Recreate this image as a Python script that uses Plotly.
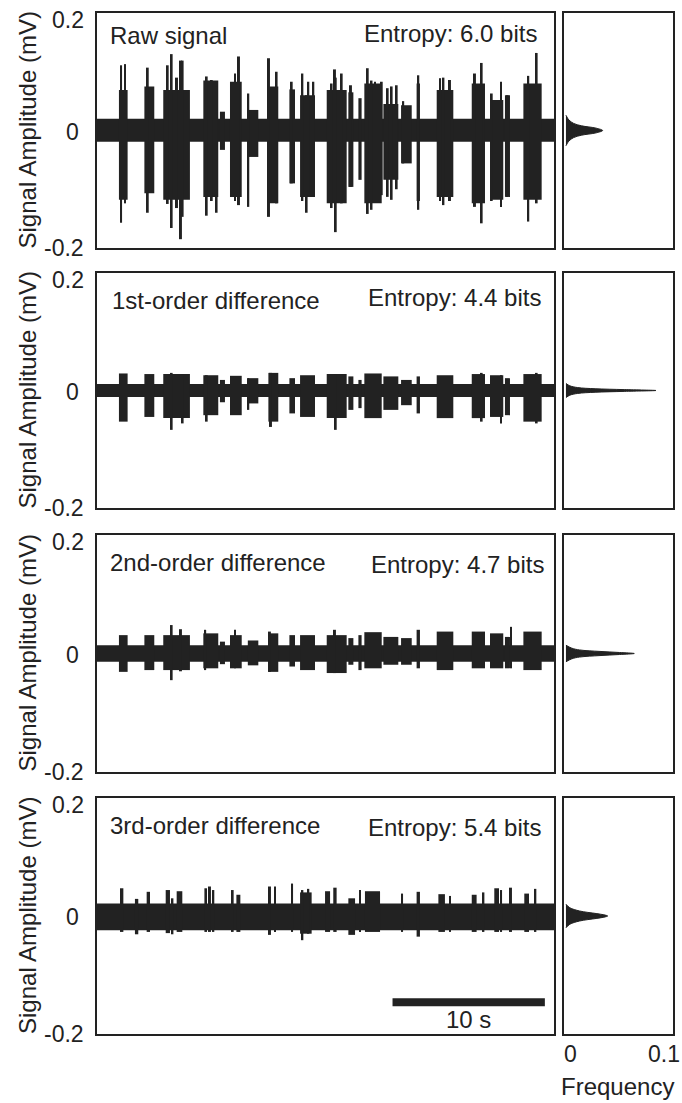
import numpy as np
import plotly.graph_objects as go

W, H = 682, 1103
INK = "#222222"
FONT = "Liberation Sans, Arial, sans-serif"

# ---------------- data ----------------
DURATION = [0, 30]                       # seconds shown in each trace panel
ROW_NAMES = ["Raw signal", "1st-order difference", "2nd-order difference", "3rd-order difference"]
ENTROPY = ["Entropy: 6.0 bits", "Entropy: 4.4 bits", "Entropy: 4.7 bits", "Entropy: 5.4 bits"]
Y_TICKS = [-0.2, 0, 0.2]
Y_TICK_TEXT = ["-0.2", "0", "0.2"]
FREQ_TICKS = [0, 0.1]
FREQ_TICK_TEXT = ["0", "0.1"]

# background noise band (upper / lower), per row
NOISE_TOP = [0.020, 0.011, 0.014, 0.021]
NOISE_BOT = [-0.019, -0.011, -0.014, -0.024]

# muscle bursts (shared timing for rows 1-3)
BURST_START = [1.44, 3.11, 4.35, 6.98, 8.07, 8.73, 9.90, 11.25, 12.63, 13.33, 15.08,
               16.50, 17.16, 17.55, 18.80, 19.96, 20.98, 22.30, 24.60, 25.80, 26.78, 27.99]
BURST_END = [2.01, 3.76, 6.10, 7.96, 8.40, 9.50, 10.59, 11.90, 13.00, 14.31, 16.39,
             16.83, 17.37, 18.69, 19.78, 20.66, 21.20, 23.39, 25.47, 26.67, 27.11, 29.19]

RAW_TOP = [0.069, 0.075, 0.069, 0.085, 0.032, 0.083, 0.035, 0.075, 0.070, 0.060, 0.069,
           0.065, 0.055, 0.080, 0.045, 0.043, 0.080, 0.069, 0.080, 0.052, 0.060, 0.080]
RAW_BOT = [-0.118, -0.107, -0.118, -0.113, -0.033, -0.113, -0.045, -0.124, -0.090, -0.113, -0.124,
           -0.096, -0.084, -0.124, -0.084, -0.056, -0.120, -0.113, -0.124, -0.118, -0.113, -0.118]
RAW_SPIKE_T = [1.58, 1.84, 3.33, 4.64, 4.90, 5.25, 5.51, 5.62, 7.20, 7.53, 7.85, 9.06, 9.32, 9.93,
               11.29, 11.79, 12.78, 13.48, 13.76, 13.87, 14.20, 15.40, 15.62, 15.67, 16.06, 16.67,
               17.77, 18.02, 18.25, 18.69, 19.08, 19.34, 19.67, 20.10, 21.09, 22.52, 22.74, 23.17,
               24.81, 25.25, 25.91, 26.52, 26.95, 28.31, 28.86]
RAW_SPIKE_TOP = [0.111, 0.113, 0.107, 0.111, 0.130, 0.090, 0.119, 0.119, 0.092, 0.086, 0.075, 0.097,
                 0.126, 0.063, 0.123, 0.100, 0.083, 0.097, 0.060, 0.083, 0.083, 0.080, 0.104, 0.090,
                 0.097, 0.077, 0.106, 0.085, 0.083, 0.083, 0.072, 0.075, 0.077, 0.050, 0.094, 0.089,
                 0.090, 0.086, 0.097, 0.115, 0.063, 0.083, 0.060, 0.093, 0.132]
RAW_SPIKE_BOT = [-0.157, -0.124, -0.140, -0.125, -0.166, -0.132, -0.185, -0.147, -0.145, -0.120,
                 -0.140, -0.120, -0.127, -0.130, -0.147, -0.124, -0.090, -0.120, -0.140, -0.110,
                 -0.110, -0.132, -0.120, -0.173, -0.124, -0.096, -0.142, -0.135, -0.120, -0.110,
                 -0.113, -0.118, -0.100, -0.056, -0.135, -0.120, -0.127, -0.120, -0.130, -0.158,
                 -0.120, -0.130, -0.113, -0.155, -0.124]

D1_TOP = [0.029, 0.028, 0.028, 0.026, 0.018, 0.025, 0.021, 0.030, 0.021, 0.026, 0.028,
          0.024, 0.018, 0.029, 0.024, 0.018, 0.024, 0.026, 0.028, 0.026, 0.021, 0.028]
D1_BOT = [-0.053, -0.045, -0.047, -0.042, -0.020, -0.042, -0.022, -0.053, -0.039, -0.045, -0.047,
          -0.033, -0.030, -0.047, -0.033, -0.025, -0.039, -0.047, -0.047, -0.045, -0.042, -0.053]
D1_SPIKE_T = [4.90, 5.62, 7.20, 9.93, 11.42, 15.67, 25.25, 26.52, 28.86]
D1_SPIKE_TOP = [0.030, 0.028, 0.026, 0.021, 0.030, 0.028, 0.030, 0.026, 0.030]
D1_SPIKE_BOT = [-0.067, -0.056, -0.053, -0.033, -0.062, -0.067, -0.053, -0.056, -0.056]

D2_TOP = [0.031, 0.031, 0.031, 0.034, 0.020, 0.031, 0.022, 0.034, 0.031, 0.031, 0.031,
          0.026, 0.031, 0.036, 0.028, 0.026, 0.040, 0.037, 0.037, 0.034, 0.028, 0.037]
D2_BOT = [-0.031, -0.028, -0.028, -0.025, -0.018, -0.025, -0.020, -0.031, -0.022, -0.028, -0.033,
          -0.019, -0.028, -0.025, -0.019, -0.019, -0.025, -0.028, -0.025, -0.025, -0.025, -0.028]
D2_SPIKE_T = [4.90, 5.51, 7.10, 9.06, 11.35, 15.62, 27.18]
D2_SPIKE_TOP = [0.048, 0.041, 0.040, 0.040, 0.037, 0.040, 0.045]
D2_SPIKE_BOT = [-0.045, -0.030, -0.028, -0.025, -0.031, -0.033, -0.025]

D3_START = [1.51, 2.49, 3.26, 4.51, 5.23, 7.05, 7.35, 7.57, 8.84, 9.15, 11.29, 11.62, 12.74, 13.33, 14.97,
            15.51, 16.50, 17.20, 17.59, 19.96, 20.98, 22.41, 23.11, 24.60, 25.30, 26.08, 26.46, 27.11, 28.05, 28.71]
D3_END = [1.73, 2.71, 3.48, 4.79, 5.60, 7.22, 7.48, 7.70, 8.97, 9.41, 11.42, 11.75, 12.87, 14.09, 15.30,
          15.73, 16.94, 17.33, 18.58, 20.09, 21.20, 22.84, 23.24, 24.92, 25.43, 26.39, 26.59, 27.24, 28.36, 28.84]
D3_TOP = [0.047, 0.029, 0.041, 0.044, 0.042, 0.047, 0.050, 0.044, 0.044, 0.036, 0.050, 0.050, 0.055, 0.040, 0.042,
          0.048, 0.030, 0.044, 0.042, 0.038, 0.041, 0.037, 0.034, 0.036, 0.040, 0.047, 0.044, 0.048, 0.038, 0.046]
D3_BOT = [-0.027, -0.031, -0.027, -0.029, -0.027, -0.027, -0.027, -0.027, -0.027, -0.027, -0.032, -0.027, -0.027, -0.030, -0.027,
          -0.027, -0.032, -0.027, -0.027, -0.027, -0.035, -0.027, -0.027, -0.027, -0.027, -0.027, -0.027, -0.027, -0.027, -0.027]
D3_SPIKE_T = [4.95, 13.48, 13.87]
D3_SPIKE_TOP = [0.030, 0.044, 0.046]
D3_SPIKE_BOT = [-0.031, -0.041, -0.030]

# amplitude histograms (amplitude bin, frequency)
H1_AMP = [0.026, 0.018, 0.012, 0.008, 0.004, 0.0, -0.004, -0.008, -0.012, -0.018, -0.026]
H1_FREQ = [0.0, 0.003, 0.008, 0.016, 0.031, 0.0377, 0.031, 0.016, 0.008, 0.003, 0.0]
H2_AMP = [0.012, 0.008, 0.005, 0.003, 0.0015, 0.0, -0.0015, -0.003, -0.005, -0.008, -0.012]
H2_FREQ = [0.0, 0.004, 0.012, 0.030, 0.060, 0.0925, 0.060, 0.030, 0.012, 0.004, 0.0]
H3_AMP = [0.014, 0.009, 0.006, 0.0035, 0.0017, 0.0, -0.0017, -0.0035, -0.006, -0.009, -0.014]
H3_FREQ = [0.0, 0.006, 0.014, 0.035, 0.055, 0.0702, 0.055, 0.035, 0.014, 0.006, 0.0]
H4_AMP = [0.020, 0.014, 0.0085, 0.0042, 0.002, 0.0, -0.002, -0.0042, -0.0085, -0.014, -0.020]
H4_FREQ = [0.0, 0.004, 0.014, 0.031, 0.039, 0.0429, 0.039, 0.031, 0.014, 0.004, 0.0]

SCALE_BAR_T = [19.4, 29.4]
SCALE_BAR_LABEL = "10 s"

rows = [
    dict(start=BURST_START, end=BURST_END, top=RAW_TOP, bot=RAW_BOT,
         st=RAW_SPIKE_T, stop=RAW_SPIKE_TOP, sbot=RAW_SPIKE_BOT, ha=H1_AMP, hf=H1_FREQ),
    dict(start=BURST_START, end=BURST_END, top=D1_TOP, bot=D1_BOT,
         st=D1_SPIKE_T, stop=D1_SPIKE_TOP, sbot=D1_SPIKE_BOT, ha=H2_AMP, hf=H2_FREQ),
    dict(start=BURST_START, end=BURST_END, top=D2_TOP, bot=D2_BOT,
         st=D2_SPIKE_T, stop=D2_SPIKE_TOP, sbot=D2_SPIKE_BOT, ha=H3_AMP, hf=H3_FREQ),
    dict(start=D3_START, end=D3_END, top=D3_TOP, bot=D3_BOT,
         st=D3_SPIKE_T, stop=D3_SPIKE_TOP, sbot=D3_SPIKE_BOT, ha=H4_AMP, hf=H4_FREQ),
]

# ---------------- layout geometry (pixels) ----------------
SIG_X = (97, 554)
HIST_X = (564, 673)
ROW_Y = [(13, 248), (273, 508), (535, 772), (798, 1034)]
LABEL_POS = [((108, 35), (539, 34)), ((110, 300), (543, 297)),
             ((108, 562), (546, 564)), ((108, 825), (543, 827))]
YTICK_RIGHT = {"-0.2": 86, "0": 81, "0.2": 86}
YTICK_SHIFT = {"-0.2": 0, "0": -1, "0.2": -7}
FREQ_TICK_X = {"0": 570, "0.1": 664}
FREQ_TICK_Y = 1054

def px(x):
    return x / W

def py(y):
    return 1 - y / H

fig = go.Figure()
layout = dict(width=W, height=H, margin=dict(l=0, r=0, t=0, b=0),
              paper_bgcolor="white", plot_bgcolor="white", showlegend=False,
              barmode="overlay", font=dict(family=FONT, color=INK, size=22))
annotations = []

axis_line = dict(showline=True, mirror=True, linecolor=INK, linewidth=2,
                 showgrid=False, zeroline=False, fixedrange=True, automargin=False,
                 showticklabels=False, ticks="")

def txt(text, x, y, xanchor="center", xref="paper", yref="paper", size=24, **kw):
    annotations.append(dict(text=text, x=x, y=y, xref=xref, yref=yref, xanchor=xanchor,
                            yanchor="middle", showarrow=False,
                            font=dict(size=size, family=FONT, color=INK), **kw))

for i, r in enumerate(rows):
    xs, ys = f"x{2*i+1}", f"y{2*i+1}"
    xh, yh = f"x{2*i+2}", f"y{2*i+2}"
    y0, y1 = ROW_Y[i]
    dom_y = [py(y1), py(y0)]

    layout[f"xaxis{2*i+1}"] = dict(domain=[px(SIG_X[0]), px(SIG_X[1])], range=DURATION,
                                   anchor=ys, **axis_line)
    layout[f"yaxis{2*i+1}"] = dict(domain=dom_y, range=[-0.2, 0.2], anchor=xs, **axis_line)
    layout[f"xaxis{2*i+2}"] = dict(domain=[px(HIST_X[0]), px(HIST_X[1])], range=[-0.002, 0.11],
                                   anchor=yh, **axis_line)
    layout[f"yaxis{2*i+2}"] = dict(domain=dom_y, range=[-0.2, 0.2], anchor=xh, **axis_line)

    # noise band
    fig.add_trace(go.Bar(x=[np.mean(DURATION)], width=[DURATION[1] - DURATION[0]],
                         base=[NOISE_BOT[i]], y=[NOISE_TOP[i] - NOISE_BOT[i]],
                         marker=dict(color=INK, line=dict(width=0)), xaxis=xs, yaxis=ys,
                         hoverinfo="skip"))
    # bursts
    st = np.array(r["start"]); en = np.array(r["end"])
    top = np.array(r["top"]); bot = np.array(r["bot"])
    fig.add_trace(go.Bar(x=(st + en) / 2, width=en - st, base=bot, y=top - bot,
                         marker=dict(color=INK, line=dict(width=0)), xaxis=xs, yaxis=ys,
                         hoverinfo="skip"))
    # individual spikes
    spt = np.array(r["st"]); stop = np.array(r["stop"]); sbot = np.array(r["sbot"])
    fig.add_trace(go.Bar(x=spt, width=np.full(len(spt), 0.13), base=sbot, y=stop - sbot,
                         marker=dict(color=INK, line=dict(width=0)), xaxis=xs, yaxis=ys,
                         hoverinfo="skip"))
    # histogram
    fig.add_trace(go.Scatter(x=r["hf"], y=r["ha"], mode="lines", fill="toself",
                             fillcolor=INK, line=dict(color=INK, width=1, shape="spline"),
                             xaxis=xh, yaxis=yh, hoverinfo="skip"))

    # y tick labels
    for val, lab in zip(Y_TICKS, Y_TICK_TEXT):
        txt(lab, px(YTICK_RIGHT[lab]), val, xanchor="right", yref=ys, size=23,
            yshift=YTICK_SHIFT[lab])

    (lx, ly), (rx, ry) = LABEL_POS[i]
    txt(ROW_NAMES[i], px(lx), py(ly), xanchor="left")
    txt(ENTROPY[i], px(rx), py(ry), xanchor="right")
    txt("Signal Amplitude (mV)", px(27), py((y0 + y1) / 2), textangle=-90)

# frequency tick labels under the last histogram
for val, lab in zip(FREQ_TICKS, FREQ_TICK_TEXT):
    txt(lab, px(FREQ_TICK_X[lab]), py(FREQ_TICK_Y), size=23)

# scale bar on the last trace panel
fig.add_trace(go.Scatter(x=SCALE_BAR_T, y=[-0.146, -0.146], mode="lines",
                         line=dict(color=INK, width=8), xaxis="x7", yaxis="y7", hoverinfo="skip"))
txt(SCALE_BAR_LABEL, float(np.mean(SCALE_BAR_T)), -0.176, xref="x7", yref="y7")
txt("Frequency", px(617), py(1086))

layout["annotations"] = annotations
fig.update_layout(**layout)
fig.write_html("out.html")
